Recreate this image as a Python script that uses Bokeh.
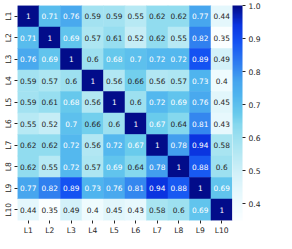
import numpy as np
from bokeh.plotting import figure
from bokeh.models import ColumnDataSource, LinearColorMapper, ColorBar, FixedTicker, PrintfTickFormatter
from bokeh.transform import transform
from bokeh.embed import file_html
from bokeh.resources import INLINE
from bokeh.core.properties import value

labels = ["L1", "L2", "L3", "L4", "L5", "L6", "L7", "L8", "L9", "L10"]
row_L1 = [1, 0.71, 0.76, 0.59, 0.59, 0.55, 0.62, 0.62, 0.77, 0.44]
row_L2 = [0.71, 1, 0.69, 0.57, 0.61, 0.52, 0.62, 0.55, 0.82, 0.35]
row_L3 = [0.76, 0.69, 1, 0.6, 0.68, 0.7, 0.72, 0.72, 0.89, 0.49]
row_L4 = [0.59, 0.57, 0.6, 1, 0.56, 0.66, 0.56, 0.57, 0.73, 0.4]
row_L5 = [0.59, 0.61, 0.68, 0.56, 1, 0.6, 0.72, 0.69, 0.76, 0.45]
row_L6 = [0.55, 0.52, 0.7, 0.66, 0.6, 1, 0.67, 0.64, 0.81, 0.43]
row_L7 = [0.62, 0.62, 0.72, 0.56, 0.72, 0.67, 1, 0.78, 0.94, 0.58]
row_L8 = [0.62, 0.55, 0.72, 0.57, 0.69, 0.64, 0.78, 1, 0.88, 0.6]
row_L9 = [0.77, 0.82, 0.89, 0.73, 0.76, 0.81, 0.94, 0.88, 1, 0.69]
row_L10 = [0.44, 0.35, 0.49, 0.4, 0.45, 0.43, 0.58, 0.6, 0.69, 1]
matrix = [row_L1, row_L2, row_L3, row_L4, row_L5, row_L6, row_L7, row_L8, row_L9, row_L10]
cbar_ticks = [0.4, 0.5, 0.6, 0.7, 0.8, 0.9, 1.0]

# colour map (style)
anchors = [(0.35, "#fafeff"), (0.40, "#eefbfe"), (0.44, "#e4f7fc"), (0.49, "#d3f1f9"),
           (0.58, "#a8e4f1"), (0.64, "#86d8ee"), (0.67, "#6acbec"), (0.73, "#4fb4ee"),
           (0.77, "#47a6ee"), (0.81, "#3588ef"), (0.89, "#1452f2"), (0.94, "#0a35e2"),
           (1.00, "#020c8a")]
def hex2rgb(h):
    return [int(h[i:i + 2], 16) for i in (1, 3, 5)]
pos = np.array([a[0] for a in anchors])
rgb = np.array([hex2rgb(a[1]) for a in anchors], dtype=float)
palette = []
for t in np.linspace(pos[0], pos[-1], 256):
    c = [int(round(np.interp(t, pos, rgb[:, k]))) for k in range(3)]
    palette.append("#%02x%02x%02x" % tuple(c))

xs, ys, vals, txt, tcol = [], [], [], [], []
for i, r in enumerate(labels):
    for j, c in enumerate(labels):
        v = matrix[i][j]
        xs.append(c); ys.append(r); vals.append(v)
        txt.append("1" if v == 1 else f"{v:g}")
        tcol.append("white" if v >= 0.665 else "#262626")
src = ColumnDataSource(dict(x=xs, y=ys, v=vals, t=txt, tc=tcol))

mapper = LinearColorMapper(palette=palette, low=0.35, high=1.0)

FH = 215
p = figure(x_range=labels, y_range=labels[::-1], frame_width=215, frame_height=FH,
           output_backend="svg", toolbar_location=None,
           min_border_top=5, min_border_left=0, min_border_right=0, min_border_bottom=0)
p.rect(x="x", y="y", width=1, height=1, source=src,
       fill_color=transform("v", mapper), line_color=transform("v", mapper), line_width=0.5)
p.text(x="x", y="y", text="t", source=src, text_color="tc", text_align="center",
       text_baseline="middle", text_font_size="7.4px", text_font=value("DejaVu Sans"))

p.outline_line_color = None
p.grid.grid_line_color = None
for ax in (p.xaxis, p.yaxis):
    ax.axis_line_color = None
    ax.major_tick_in = 0
    ax.major_tick_out = 3
    ax.major_tick_line_color = "#262626"
    ax.major_label_text_font = "DejaVu Sans"
    ax.major_label_text_font_size = "7.6px"
    ax.major_label_text_color = "#262626"
    ax.major_label_standoff = 2
p.yaxis.major_label_orientation = "vertical"

cb = ColorBar(color_mapper=mapper, width=10, height=FH, padding=0, margin=15,
              location=(0, 0),
              ticker=FixedTicker(ticks=cbar_ticks), formatter=PrintfTickFormatter(format="%.1f"),
              major_tick_in=0, major_tick_out=3, major_tick_line_color="#262626",
              bar_line_color=None, label_standoff=3,
              major_label_text_font="DejaVu Sans", major_label_text_font_size="7.6px",
              major_label_text_color="#262626")
p.add_layout(cb, "right")

open("out.html", "w").write(file_html(p, INLINE))
